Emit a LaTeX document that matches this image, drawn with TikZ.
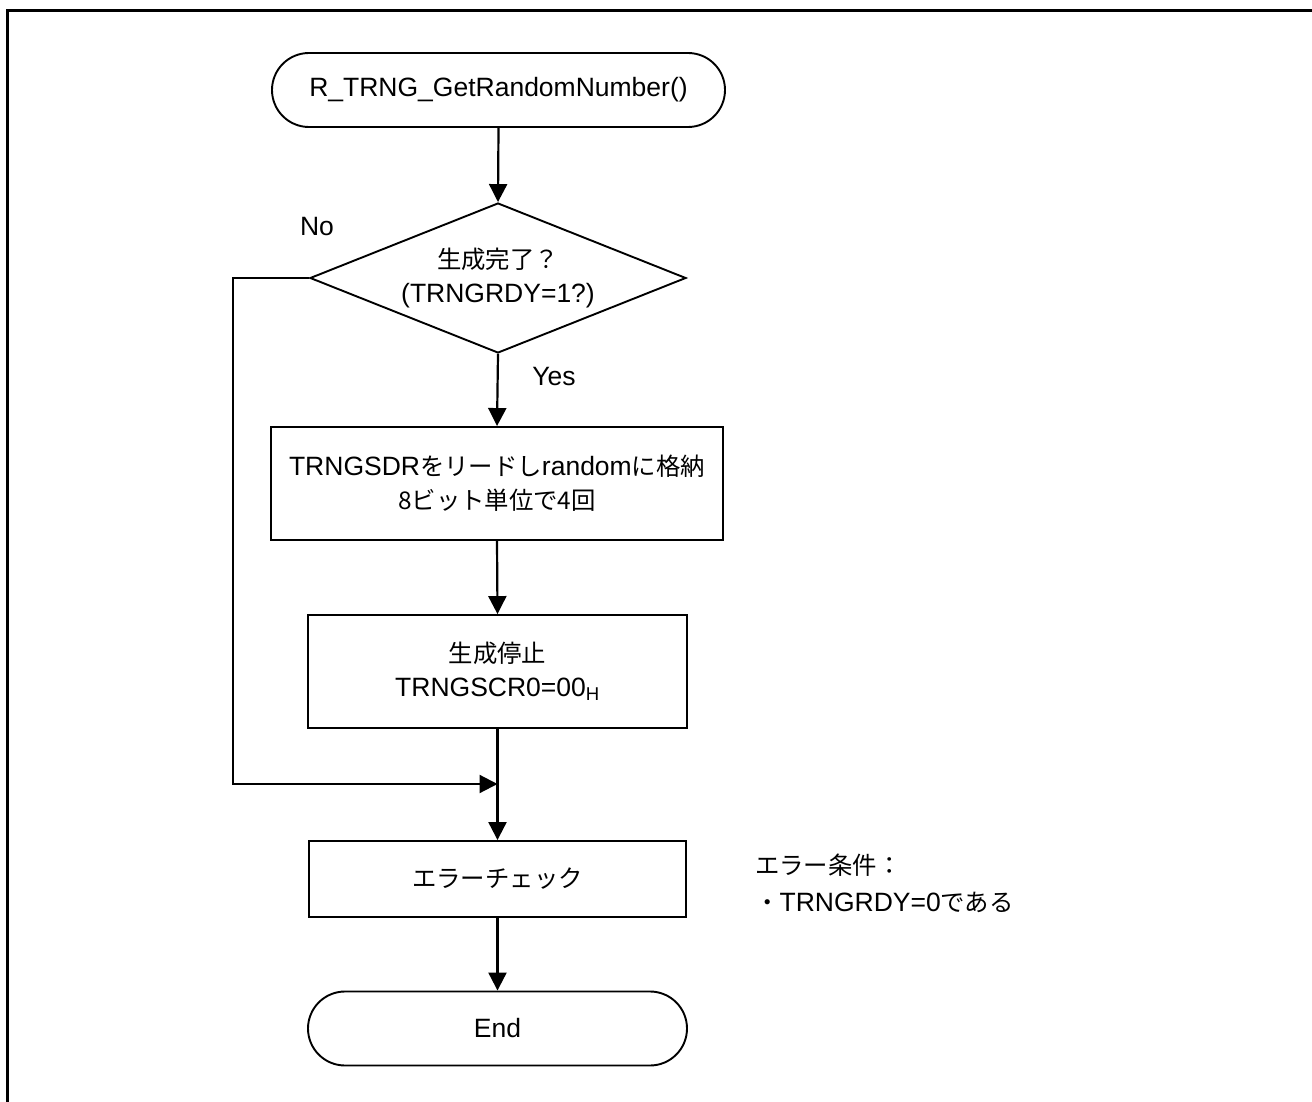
\documentclass[tikz,border=0pt]{standalone}
\usepackage{fontspec}
\setmainfont{Liberation Sans}
\newfontfamily\jp[Scale=0.92]{Noto Sans CJK JP}
\usetikzlibrary{shapes.geometric,arrows.meta}

\begin{document}
\begin{tikzpicture}[x=1pt,y=-1pt,
  every node/.style={font=\fontsize{26.5}{34}\selectfont},
  shapeline/.style={draw, line width=1.9pt},
  terminal/.style={shapeline, rectangle, rounded corners=37pt, minimum height=74pt, inner sep=0pt},
  procbox/.style={shapeline, rectangle, align=center, inner sep=0pt},
  decision/.style={shapeline, diamond, aspect=2.5, inner sep=0pt, align=center,
    minimum width=376pt, minimum height=150pt},
  flowline/.style={line width=2.2pt, -{Triangle[length=18pt,width=18pt]}},
  plainline/.style={line width=2.2pt},
  tag/.style={inner sep=0pt}
]
\useasboundingbox (0,0) rectangle (1312,1102);
\fill[white] (0,0) rectangle (1312,1102);

% outer frame (left and top edges)
\draw[line width=3pt] (7.5,1115) -- (7.5,11) -- (1320,11);

% flow elements
\node[terminal, minimum width=453pt] (start) at (498.5,90) {R\_TRNG\_GetRandomNumber()};
\node[decision] (ready) at (498,278) {{\jp 生成完了？}\\(TRNGRDY=1?)};
\node[procbox, minimum width=452pt, minimum height=113pt] (read) at (497,483.5)
  {TRNGSDR{\jp をリードし}random{\jp に格納}\\{\jp 8ビット単位で4回}};
\node[procbox, minimum width=379pt, minimum height=113pt] (stop) at (497.5,671.5)
  {{\jp 生成停止}\\TRNGSCR0=00\textsubscript{H}};
\node[procbox, minimum width=377pt, minimum height=76pt] (check) at (497.5,879)
  {{\jp エラーチェック}};
\node[terminal, minimum width=379pt] (finish) at (497.5,1028.5) {End};

% branch labels
\node[tag] (nolabel) at (317,227) {No};
\node[tag] (yeslabel) at (554,377) {Yes};

% note beside the error check
\node[tag, anchor=west] (cond) at (755,865) {{\jp エラー条件：}};
\node[tag, anchor=west] (condline) at (755,902) {{\jp ・}TRNGRDY=0{\jp である}};

% connectors
\coordinate (loopcorner) at (233,784);
\coordinate (merge) at (497.5,784);
\draw[flowline] (start.south) -- (ready.north);
\draw[flowline] (ready.south) -- (read.north);
\draw[flowline] (read.south) -- (stop.north);
\draw[flowline] (stop.south) -- (check.north);
\draw[flowline] (ready.west) -| (loopcorner) -- (merge);
\draw[flowline] (check.south) -- (finish.north);
\end{tikzpicture}
\end{document}
